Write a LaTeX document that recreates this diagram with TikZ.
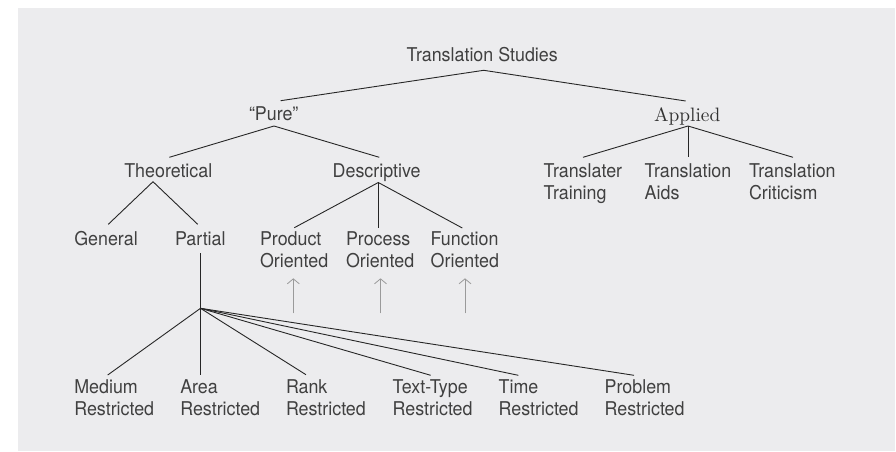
\documentclass[tikz,border=0pt]{standalone}
\usepackage{fontspec}
\setmainfont[FakeStretch=0.94]{TeX Gyre Heros}
\newfontfamily\appliedfont{lmroman10-regular}[Extension=.otf]
\usetikzlibrary{arrows.meta}
\definecolor{bggray}{HTML}{ECECEE}
\definecolor{txtgray}{HTML}{404040}
\definecolor{linegray}{HTML}{262626}
\definecolor{arrgray}{HTML}{9A9A9A}
\newcommand{\twoline}[2]{\begin{tabular}[t]{@{}l@{}}#1\\#2\end{tabular}}
\tikzset{
  lbl/.style={anchor=base west, inner sep=0pt, outer sep=0pt, text=txtgray,
    font=\fontsize{19}{22.4}\selectfont},
  link/.style={draw=linegray, line width=0.9pt},
  uparrow/.style={draw=arrgray, line width=0.8pt, -{Straight Barb[length=5pt,width=12pt]}}
}
\begin{document}
\begin{tikzpicture}[x=1pt,y=-1pt]
\useasboundingbox (0,0) rectangle (896,451);
\fill[white] (0,0) rectangle (896,451);
\fill[bggray] (18,8) rectangle (895,451);

% labels
\node[lbl] (ts) at (406.7,61.7) {Translation Studies};
\node[lbl] (pure) at (249,120) {“Pure”};
\node[lbl, text=black!80, font=\appliedfont\fontsize{19.4}{22}\selectfont] (applied) at (654,121) {Applied};
\node[lbl] (theo) at (124.3,177.5) {Theoretical};
\node[lbl] (desc) at (332.7,177.5) {Descriptive};
\node[lbl] (train) at (543.7,177.5) {\twoline{Translater}{Training}};
\node[lbl] (aids) at (644.7,177.5) {\twoline{Translation}{Aids}};
\node[lbl] (crit) at (749,177.5) {\twoline{Translation}{Criticism}};
\node[lbl] (gen) at (74.3,245.7) {General};
\node[lbl] (part) at (175,245.7) {Partial};
\node[lbl] (prod) at (260,245) {\twoline{Product}{Oriented}};
\node[lbl] (proc) at (346,245) {\twoline{Process}{Oriented}};
\node[lbl] (func) at (430.7,245) {\twoline{Function}{Oriented}};
\node[lbl] (med) at (74.3,393.3) {\twoline{Medium}{Restricted}};
\node[lbl] (area) at (180.3,393.3) {\twoline{Area}{Restricted}};
\node[lbl] (rank) at (286,393.3) {\twoline{Rank}{Restricted}};
\node[lbl] (text) at (392.7,393.3) {\twoline{Text-Type}{Restricted}};
\node[lbl] (time) at (498.7,393.3) {\twoline{Time}{Restricted}};
\node[lbl] (prob) at (604.7,393.3) {\twoline{Problem}{Restricted}};

% connector end points
\coordinate (ts-a) at (483.7,70.3);
\coordinate (pure-t) at (280.7,100.7);
\coordinate (applied-t) at (685.7,101);
\coordinate (pure-a) at (274,126);
\coordinate (theo-t) at (169.3,157.3);
\coordinate (desc-t) at (379.3,157.3);
\coordinate (applied-a) at (688,126);
\coordinate (train-t) at (583,157.3);
\coordinate (aids-t) at (688,157.3);
\coordinate (crit-t) at (793,157.3);
\coordinate (theo-a) at (153,181.7);
\coordinate (gen-t) at (108.3,224.3);
\coordinate (part-t) at (197.7,224.3);
\coordinate (desc-a) at (378.3,182.5);
\coordinate (prod-t) at (294.3,227.7);
\coordinate (proc-t) at (378.3,228);
\coordinate (func-t) at (462.3,228);
\coordinate (part-a) at (200.5,253.3);
\coordinate (hub) at (200.5,308.3);
\coordinate (med-t) at (107.7,375);
\coordinate (area-t) at (200.5,374.5);
\coordinate (rank-t) at (306,374.7);
\coordinate (text-t) at (430.7,375.3);
\coordinate (time-t) at (518.3,375.3);
\coordinate (prob-t) at (634,375.3);
\coordinate (prod-b) at (293.3,313.3);
\coordinate (prod-u) at (293.3,278.3);
\coordinate (proc-b) at (380.5,313.3);
\coordinate (proc-u) at (380.5,278.3);
\coordinate (func-b) at (465,313.3);
\coordinate (func-u) at (465,278.3);

% connectors
\draw[link] (pure-t) -- (ts-a) -- (applied-t);
\draw[link] (theo-t) -- (pure-a) -- (desc-t);
\draw[link] (train-t) -- (applied-a) -- (crit-t);
\draw[link] (applied-a) -- (aids-t);
\draw[link] (gen-t) -- (theo-a) -- (part-t);
\draw[link] (prod-t) -- (desc-a) -- (func-t);
\draw[link] (desc-a) -- (proc-t);
\draw[link] (part-a) -- (hub);
\foreach \c in {med-t,area-t,rank-t,text-t,time-t,prob-t}
  \draw[link] (hub) -- (\c);
\draw[uparrow] (prod-b) -- (prod-u);
\draw[uparrow] (proc-b) -- (proc-u);
\draw[uparrow] (func-b) -- (func-u);
\end{tikzpicture}
\end{document}
